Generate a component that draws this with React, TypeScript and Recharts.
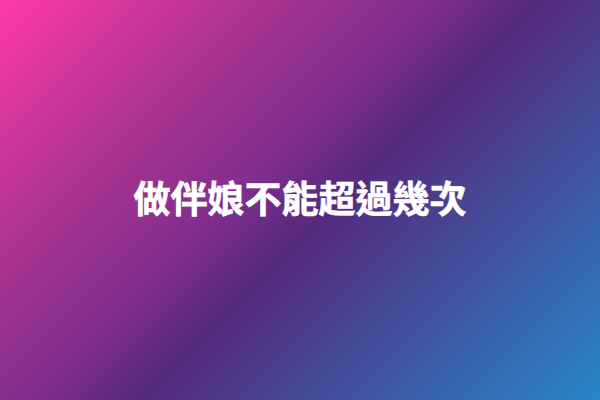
import { BarChart, Bar, LabelList, XAxis, YAxis } from 'recharts';

const title = '做伴娘不能超過幾次';
const categories = ['bg'];
const values = [1];
const stopOffsets = [0, 0.28, 0.42, 0.54, 0.62, 1];
const stopColors = ['#ff3aab', '#a6338f', '#842e8e', '#552a7e', '#4d3a8c', '#2787c9'];

const W = 600;
const H = 400;

const data = categories.map((c, i) => ({ name: c, value: values[i], label: title }));

export default function App() {
  return (
    <div style={{ width: W, height: H }}>
      <style>{'body{margin:0}'}</style>
      <BarChart
        width={W}
        height={H}
        data={data}
        margin={{ top: 0, right: 0, bottom: 0, left: 0 }}
        barCategoryGap={0}
        barGap={0}
      >
        <defs>
          {/* diagonal along x+y, pink top-left to blue bottom-right */}
          <linearGradient id="bg" gradientUnits="userSpaceOnUse" x1={0} y1={0} x2={500} y2={500}>
            {stopOffsets.map((o, i) => (
              <stop key={i} offset={o} stopColor={stopColors[i]} />
            ))}
          </linearGradient>
        </defs>
        <XAxis dataKey="name" hide />
        <YAxis domain={[0, 1]} hide />
        <Bar dataKey="value" fill="url(#bg)" isAnimationActive={false}>
          <LabelList
            dataKey="label"
            position="center"
            fill="#ffffff"
            stroke="#ffffff"
            strokeWidth={0.6}
            fontSize={37}
            fontWeight={700}
            fontFamily="'Noto Sans CJK TC', sans-serif"
          />
        </Bar>
      </BarChart>
    </div>
  );
}
